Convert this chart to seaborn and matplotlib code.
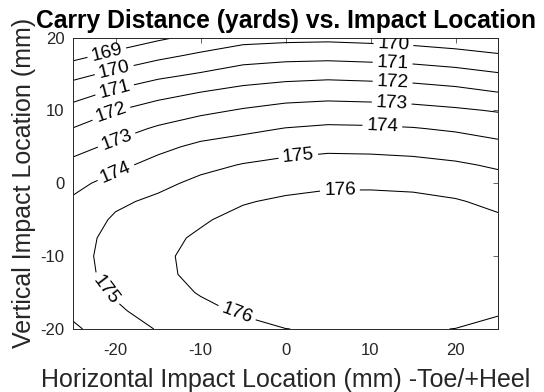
import matplotlib
matplotlib.use("Agg")
import matplotlib.pyplot as plt
import seaborn as sns

# Impact grid (mm) and carry distance (yards) at each grid node
horizontal_mm = [-25, -20, -15, -10, -5, 0, 5, 10, 15, 20, 25]
vertical_mm = [-20, -17.5, -15, -12.5, -10, -7.5, -5, -2.5, 0,
               2.5, 5, 7.5, 10, 12.5, 15, 17.5, 20]

# one row per vertical position (bottom to top), columns follow horizontal_mm
carry_yards = [
    [173.84, 174.55, 175.05, 175.46, 175.76, 175.99, 176.08, 176.11, 176.06, 175.99, 175.76],
    [174.21, 174.84, 175.42, 175.81, 176.10, 176.34, 176.43, 176.46, 176.41, 176.28, 176.10],
    [174.47, 175.12, 175.68, 176.05, 176.34, 176.57, 176.67, 176.70, 176.65, 176.52, 176.32],
    [174.61, 175.32, 175.85, 176.17, 176.47, 176.70, 176.80, 176.83, 176.78, 176.65, 176.44],
    [174.65, 175.37, 175.87, 176.19, 176.50, 176.71, 176.81, 176.84, 176.79, 176.67, 176.45],
    [174.58, 175.32, 175.78, 176.11, 176.42, 176.63, 176.73, 176.76, 176.71, 176.58, 176.35],
    [174.40, 175.13, 175.52, 175.91, 176.23, 176.43, 176.54, 176.56, 176.51, 176.38, 176.13],
    [174.13, 174.83, 175.19, 175.62, 175.94, 176.13, 176.25, 176.26, 176.21, 176.07, 175.80],
    [173.75, 174.33, 174.77, 175.22, 175.52, 175.73, 175.85, 175.85, 175.80, 175.64, 175.36],
    [173.26, 173.78, 174.29, 174.74, 175.05, 175.24, 175.34, 175.33, 175.27, 175.13, 174.88],
    [172.67, 173.22, 173.77, 174.20, 174.44, 174.68, 174.81, 174.78, 174.70, 174.53, 174.27],
    [172.03, 172.62, 173.12, 173.53, 173.78, 174.03, 174.16, 174.13, 174.05, 173.88, 173.62],
    [171.34, 171.97, 172.43, 172.78, 173.08, 173.32, 173.42, 173.38, 173.28, 173.13, 172.93],
    [170.57, 171.16, 171.65, 172.00, 172.31, 172.52, 172.61, 172.55, 172.46, 172.29, 172.00],
    [169.69, 170.23, 170.73, 171.07, 171.45, 171.62, 171.71, 171.64, 171.54, 171.35, 171.07],
    [168.73, 169.27, 169.77, 170.18, 170.55, 170.69, 170.73, 170.65, 170.55, 170.37, 170.12],
    [168.10, 168.35, 168.83, 169.26, 169.64, 169.73, 169.77, 169.69, 169.57, 169.39, 169.15],
]

contour_levels = [169, 170, 171, 172, 173, 174, 175, 176]
x_ticks = [-20, -10, 0, 10, 20]
y_ticks = [-20, -10, 0, 10, 20]

sns.set_theme(style="white")
plt.rcParams["font.family"] = ["Liberation Sans", "DejaVu Sans"]
plt.rcParams["axes.unicode_minus"] = False

text_gray = "#262626"

fig = plt.figure(figsize=(5.44, 3.92), dpi=100)
ax = fig.add_axes([73 / 544, 1 - 329 / 392, (498 - 73) / 544, (329 - 37.5) / 392])

cs = ax.contour(horizontal_mm, vertical_mm, carry_yards,
                levels=contour_levels, colors="black", linewidths=0.75)

# where each inline label sits along its line
label_spots = [
    (-21.0, 17.8), (-20.1, 15.3), (-20.0, 12.4), (-20.4, 9.3), (-19.9, 6.0),
    (-20.0, 1.6), (-21.3, -14.7), (-5.8, -18.1), (1.5, 3.8), (6.4, -0.9),
    (12.7, 19.1), (12.6, 16.4), (12.6, 13.9), (12.5, 11.1), (11.4, 8.0),
]
ax.clabel(cs, fmt="%d", fontsize=13.7, inline=True, inline_spacing=4,
          manual=label_spots, colors="black")

ax.set_xlim(-25, 25)
ax.set_ylim(-20, 20)
ax.set_xticks(x_ticks)
ax.set_yticks(y_ticks)
ax.tick_params(direction="in", length=3.6, width=0.5, top=True, right=True,
               labelsize=12, colors=text_gray)
ax.tick_params(axis="x", pad=10)
ax.tick_params(axis="y", pad=6)
for spine in ax.spines.values():
    spine.set_color(text_gray)
    spine.set_linewidth(0.7)

ax.set_title("Carry Distance (yards) vs. Impact Location",
             fontsize=17.7, fontweight="bold", color="black", pad=7)
ax.set_xlabel("Horizontal Impact Location (mm) -Toe/+Heel",
              fontsize=18, color=text_gray, labelpad=7)
ax.set_ylabel("Vertical Impact Location (mm)",
              fontsize=18, color=text_gray, labelpad=3)

fig.savefig("out.png", dpi=100)
